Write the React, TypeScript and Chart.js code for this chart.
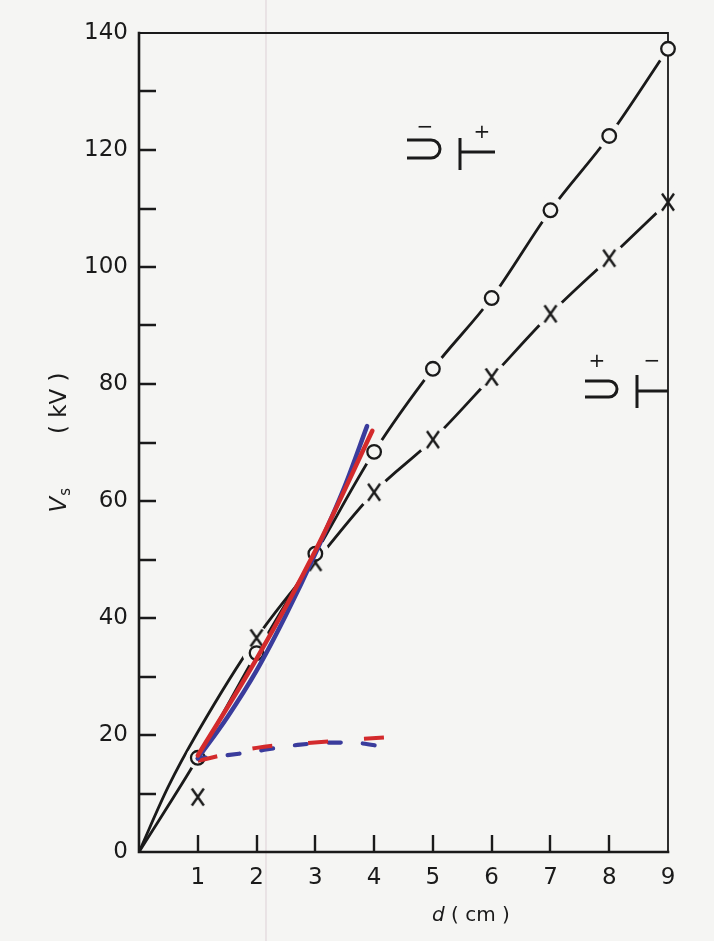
import React, { useEffect, useRef } from 'react';
import { Chart, registerables } from 'chart.js';

Chart.register(...registerables);

// ---- data ----
const gapCm = [1, 2, 3, 4, 5, 6, 7, 8, 9];
const vsCircle = [16.1, 34.0, 51.0, 68.4, 82.6, 94.7, 109.7, 122.4, 137.3];
const vsCross = [9.4, 36.6, 49.5, 61.5, 70.5, 81.2, 92.0, 101.5, 111.1];

// hand-drawn fitted curves (start at origin)
const circleCurveX = [0, 1, 2, 3, 4, 5, 6, 7, 8, 9];
const circleCurveY = [0, 16.1, 34.0, 51.0, 68.4, 82.6, 94.7, 109.7, 122.4, 137.3];
const crossCurveX = [0, 0.5, 1, 2, 3, 4, 5, 6, 7, 8, 9];
const crossCurveY = [0, 11.2, 20.5, 36.6, 49.5, 61.5, 70.5, 81.2, 92.0, 101.5, 111.1];

// coloured overlay curves
const blueSolidX = [1, 1.5, 2, 2.5, 3, 3.5, 3.88];
const blueSolidY = [16, 23, 31, 40.5, 51, 62.5, 72.8];
const redSolidX = [1, 2, 3, 3.97];
const redSolidY = [16.5, 33, 51.5, 72];
const blueDashX = [1, 1.7, 2.7, 3.3, 3.75, 4.15];
const blueDashY = [16, 16.8, 18.3, 18.7, 18.6, 18];
const redDashX = [1, 2, 3.1, 4.2];
const redDashY = [15.6, 17.8, 18.8, 19.6];

const xMin = 0, xMax = 9, xStep = 1;
const yMin = 0, yMax = 140, yStep = 10, yLabelEvery = 20;

const INK = '#1a1a1a';
const BG = '#f5f5f3';
const RED = '#d32a2c';
const BLUE = '#3a3c9c';
const FONT = '"DejaVu Sans", sans-serif';

const pts = (xs: number[], ys: number[]) => xs.map((x, i) => ({ x, y: ys[i] }));

function makeCross(): HTMLCanvasElement {
  const c = document.createElement('canvas');
  c.width = 16;
  c.height = 20;
  const g = c.getContext('2d')!;
  g.strokeStyle = INK;
  g.lineWidth = 2.4;
  g.beginPath();
  g.moveTo(2, 1.5);
  g.lineTo(14, 18.5);
  g.moveTo(14, 1.5);
  g.lineTo(2, 18.5);
  g.stroke();
  return c;
}

function drawCup(g: CanvasRenderingContext2D, x0: number, yTop: number, yBot: number, r: number, cx: number) {
  g.beginPath();
  g.moveTo(x0, yTop);
  g.lineTo(cx, yTop);
  g.arc(cx, (yTop + yBot) / 2, r, -Math.PI / 2, Math.PI / 2);
  g.lineTo(x0, yBot);
  g.stroke();
}

function drawRod(g: CanvasRenderingContext2D, x: number, y0: number, y1: number, yh: number, x1: number) {
  g.beginPath();
  g.moveTo(x, y0);
  g.lineTo(x, y1);
  g.moveTo(x, yh);
  g.lineTo(x1, yh);
  g.stroke();
}

const decor = {
  id: 'decor',
  beforeDraw(chart: any) {
    const g = chart.ctx as CanvasRenderingContext2D;
    g.save();
    g.fillStyle = BG;
    g.fillRect(0, 0, chart.width, chart.height);
    g.strokeStyle = 'rgba(205,180,190,0.45)';
    g.lineWidth = 1.2;
    g.beginPath();
    g.moveTo(266, 0);
    g.lineTo(266, chart.height);
    g.stroke();
    g.restore();
  },
  afterDatasetDraw(chart: any, args: any) {
    const ds = chart.data.datasets[args.index];
    if (ds.label !== 'halo-x') return;
    const g = chart.ctx as CanvasRenderingContext2D;
    const a = chart.chartArea;
    g.save();
    g.strokeStyle = INK;
    g.lineCap = 'square';
    g.lineWidth = 1.8;
    g.beginPath();
    g.moveTo(a.left, a.top);
    g.lineTo(a.right, a.top);
    g.lineTo(a.right, a.bottom);
    g.stroke();
    g.lineWidth = 2.6;
    g.beginPath();
    g.moveTo(a.left, a.top);
    g.lineTo(a.left, a.bottom);
    g.lineTo(a.right, a.bottom);
    g.stroke();
    g.lineCap = 'butt';
    g.lineWidth = 2.4;
    const ys = chart.scales.y;
    const xs = chart.scales.x;
    g.beginPath();
    ys.ticks.forEach((t: any) => {
      if (t.value <= yMin || t.value >= yMax) return;
      const py = Math.round(ys.getPixelForValue(t.value));
      g.moveTo(a.left, py);
      g.lineTo(a.left + 17, py);
    });
    xs.ticks.forEach((t: any) => {
      if (t.value <= xMin || t.value >= xMax) return;
      const px = Math.round(xs.getPixelForValue(t.value));
      g.moveTo(px, a.bottom);
      g.lineTo(px, a.bottom - 17);
    });
    g.stroke();
    g.restore();
  },
  afterDraw(chart: any) {
    const g = chart.ctx as CanvasRenderingContext2D;
    const a = chart.chartArea;
    g.save();
    g.fillStyle = INK;
    g.textBaseline = 'middle';

    // y axis title: V_s ( kV )
    const cy = (a.top + a.bottom) / 2;
    g.translate(60, cy);
    g.rotate(-Math.PI / 2);
    g.textAlign = 'left';
    g.font = `italic 23px ${FONT}`;
    const start = -70;
    g.fillText('V', start, 0);
    const wV = g.measureText('V').width;
    g.font = `15px ${FONT}`;
    g.fillText('s', start + wV + 1, 6);
    g.font = `23px ${FONT}`;
    g.textAlign = 'right';
    g.fillText('( kV )', 70, 0);
    g.setTransform(1, 0, 0, 1, 0, 0);

    // x axis title: d ( cm )
    g.textAlign = 'left';
    g.font = `italic 20px ${FONT}`;
    g.fillText('d', 432, 916);
    const wd = g.measureText('d ').width;
    g.font = `20px ${FONT}`;
    g.fillText('( cm )', 432 + wd, 916);

    // electrode symbols
    g.strokeStyle = INK;
    g.lineWidth = 3;
    g.lineCap = 'butt';
    drawCup(g, 407, 140, 158, 9, 431);
    drawRod(g, 460, 138, 170, 152, 495);
    drawCup(g, 585, 381, 397, 8, 609);
    drawRod(g, 637, 375, 408, 391, a.right);

    g.font = `20px ${FONT}`;
    g.textAlign = 'center';
    g.fillText('\u2212', 425, 128);
    g.fillText('+', 482, 133);
    g.fillText('+', 597, 362);
    g.fillText('\u2212', 652, 362);
    g.restore();
  },
};

export default function App() {
  const ref = useRef<HTMLCanvasElement | null>(null);

  useEffect(() => {
    if (!ref.current) return;
    const cross = makeCross();
    const circlePts = pts(gapCm, vsCircle);
    const crossPts = pts(gapCm, vsCross);
    const curve = { pointRadius: 0, borderColor: INK, borderWidth: 2.8, cubicInterpolationMode: 'monotone' as const, fill: false };
    const chart = new Chart(ref.current, {
      type: 'line',
      data: {
        datasets: [
          { label: 'red-solid', data: pts(redSolidX, redSolidY), borderColor: RED, borderWidth: 4.5, pointRadius: 0, cubicInterpolationMode: 'monotone', order: 0, borderCapStyle: 'round' },
          { label: 'blue-solid', data: pts(blueSolidX, blueSolidY), borderColor: BLUE, borderWidth: 4.5, pointRadius: 0, cubicInterpolationMode: 'monotone', order: 1, borderCapStyle: 'round' },
          { label: 'red-dash', data: pts(redDashX, redDashY), borderColor: RED, borderWidth: 4, borderDash: [20, 36], pointRadius: 0, cubicInterpolationMode: 'monotone', order: 2 },
          { label: 'blue-dash', data: pts(blueDashX, blueDashY), borderColor: BLUE, borderWidth: 4.2, borderDash: [12, 22], borderDashOffset: -30, pointRadius: 0, cubicInterpolationMode: 'monotone', order: 3, borderCapStyle: 'round' },
          { label: 'O', data: circlePts, showLine: false, pointStyle: 'circle', pointRadius: 6.8, pointBorderWidth: 2.3, pointBorderColor: INK, pointBackgroundColor: BG, order: 4, clip: false },
          { label: 'X', data: crossPts, showLine: false, pointStyle: cross, pointRadius: 8, order: 5, clip: false },
          { label: 'halo-x', data: pts(gapCm, vsCross), showLine: false, pointStyle: 'circle', pointRadius: (c: any) => (c.dataIndex < 2 ? 12 : 16), pointBorderWidth: 0, pointBackgroundColor: BG, pointBorderColor: BG, order: 7, clip: false },
          { label: 'halo-o', data: pts(gapCm, vsCircle), showLine: false, pointStyle: 'circle', pointRadius: (c: any) => (c.dataIndex === 0 ? 11.5 : 14), pointBorderWidth: 0, pointBackgroundColor: BG, pointBorderColor: BG, order: 8, clip: false },
          { label: 'O-curve', data: pts(circleCurveX, circleCurveY), ...curve, order: 10 },
          { label: 'X-curve', data: pts(crossCurveX, crossCurveY), ...curve, order: 10 },
        ] as any,
      },
      options: {
        responsive: false,
        maintainAspectRatio: false,
        devicePixelRatio: 1,
        animation: false,
        events: [],
        layout: { padding: { left: 0, top: 33, right: 46, bottom: 0 } },
        plugins: { legend: { display: false }, tooltip: { enabled: false }, title: { display: false } },
        scales: {
          x: {
            type: 'linear',
            min: xMin,
            max: xMax,
            grid: { display: false, drawTicks: false },
            border: { display: false },
            ticks: {
              stepSize: xStep,
              autoSkip: false,
              maxRotation: 0,
              padding: 12,
              color: INK,
              font: { family: FONT, size: 23 },
              callback: (v: any) => (Number(v) === xMin ? '' : String(v)),
            },
            afterFit: (s: any) => { s.height = 89; },
          },
          y: {
            type: 'linear',
            min: yMin,
            max: yMax,
            grid: { display: false, drawTicks: false },
            border: { display: false },
            ticks: {
              stepSize: yStep,
              autoSkip: false,
              padding: 11,
              color: INK,
              font: { family: FONT, size: 23 },
              callback: (v: any) => (Number(v) % yLabelEvery === 0 ? String(v) : ''),
            },
            afterFit: (s: any) => { s.width = 139; },
          },
        },
      },
      plugins: [decor],
    });
    return () => chart.destroy();
  }, []);

  return (
    <div style={{ position: 'absolute', left: 0, top: 0, width: 714, height: 941, background: BG }}>
      <canvas ref={ref} width={714} height={941} style={{ display: 'block', width: 714, height: 941 }} />
    </div>
  );
}
